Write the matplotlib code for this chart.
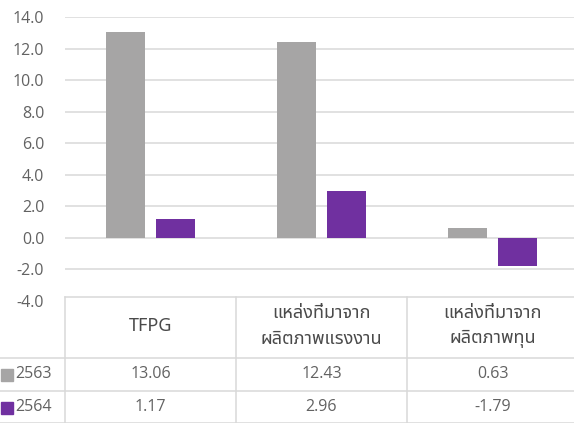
import matplotlib
matplotlib.use("Agg")
import matplotlib.pyplot as plt

categories = ["TFPG", "แหล่งที่มาจาก\nผลิตภาพแรงงาน", "แหล่งที่มาจาก\nผลิตภาพทุน"]
series_names = ["2563", "2564"]
values_2563 = [13.06, 12.43, 0.63]
values_2564 = [1.17, 2.96, -1.79]
value_labels_2563 = ["13.06", "12.43", "0.63"]
value_labels_2564 = ["1.17", "2.96", "-1.79"]
yticks = [-4.0, -2.0, 0.0, 2.0, 4.0, 6.0, 8.0, 10.0, 12.0, 14.0]

num_fam = ["Open Sans", "DejaVu Sans"]
thai_fam = ["Noto Sans Thai", "Loma", "DejaVu Sans"]
plt.rcParams['font.family'] = num_fam

W, H = 574, 423
fig = plt.figure(figsize=(W / 100, H / 100), dpi=100)

colors = ["#a6a5a5", "#7030a0"]
text_col = "#626262"
grid_col = "#d9d9d9"

left_px, right_px = 65, 578
top_px, bot_px = 17, 301
ax = fig.add_axes([left_px / W, 1 - bot_px / H, (right_px - left_px) / W, (bot_px - top_px) / H])
x = list(range(len(categories)))
bw = 0.228
off = 0.146
ax.bar([i - off for i in x], values_2563, bw, color=colors[0], zorder=3)
ax.bar([i + off for i in x], values_2564, bw, color=colors[1], zorder=3)
ax.set_xlim(-0.5, 2.5)
ax.set_ylim(-4, 14)
ax.set_yticks(yticks)
ax.set_yticklabels([f"{t:.1f}" for t in yticks], color=text_col, fontsize=11.5)
ax.tick_params(axis='y', length=0, pad=15)
ax.set_xticks([])
ax.grid(axis='y', color=grid_col, lw=1.1, zorder=0)
for s in ax.spines.values():
    s.set_visible(False)

# data table under the chart
tb_top, tb_bot = 297, 425
tax = fig.add_axes([left_px / W, 1 - tb_bot / H, (right_px - left_px) / W, (tb_bot - tb_top) / H])
tax.set_xlim(-0.5, 2.5)
tax.set_ylim(128, 0)
tax.axis('off')
tax.patch.set_visible(False)
px_per_unit = (right_px - left_px) / 3
xl = -0.5 - left_px / px_per_unit
rect = plt.Rectangle((-0.5, 0), 3, 128, color='white', zorder=0, clip_on=False)
tax.add_patch(rect)
row_edges = [0, 61, 94, 126]
lc = grid_col
tax.plot([-0.5, 2.5], [0, 0], color=lc, lw=1.1, clip_on=False)
for yy in row_edges[1:]:
    tax.plot([xl, 2.5], [yy, yy], color=lc, lw=1.1, clip_on=False)
for xx in [-0.5, 0.5, 1.5, 2.5]:
    tax.plot([xx, xx], [0, 128], color=lc, lw=1.1, clip_on=False)
for i, c in enumerate(categories):
    tax.text(i, 29, c, ha='center', va='center', fontsize=13, color="#4a4a4a",
             linespacing=1.5, family=thai_fam)
for i in x:
    tax.text(i, 77, value_labels_2563[i], ha='center', va='center', fontsize=11.5, color=text_col)
    tax.text(i, 110, value_labels_2564[i], ha='center', va='center', fontsize=11.5, color=text_col)
for r, (name, col) in enumerate(zip(series_names, colors)):
    yy = 77 + 33 * r
    tax.plot([xl + 6.5 / px_per_unit], [yy + 1], marker='s', ms=8, color=col, clip_on=False)
    tax.text(xl + 15 / px_per_unit, yy, name, ha='left', va='center', fontsize=11.5, color=text_col)

fig.savefig("out.png", dpi=100)
